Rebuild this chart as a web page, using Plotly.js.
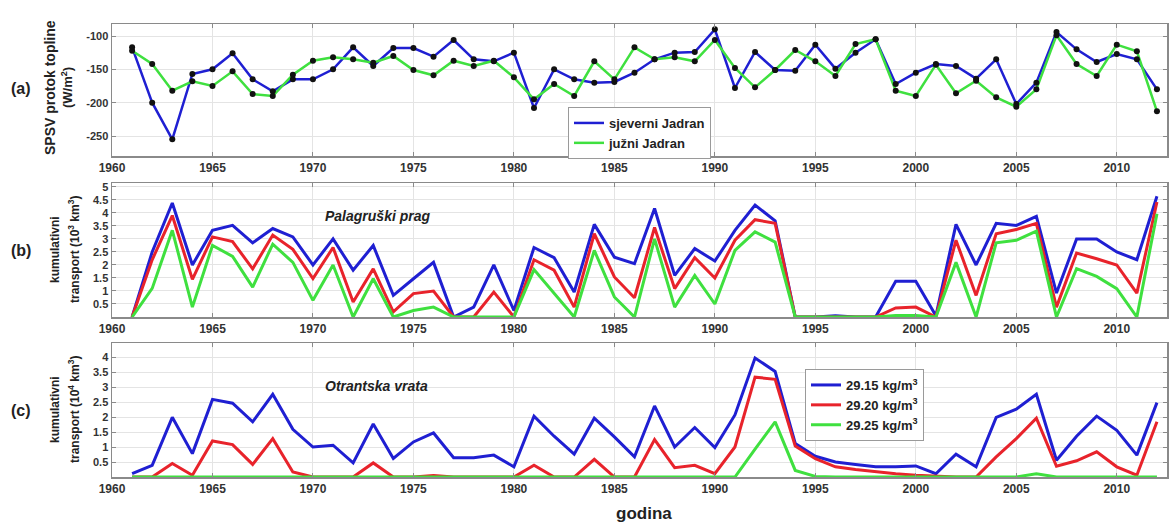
<!DOCTYPE html>
<html>
<head>
<meta charset="utf-8">
<script src="https://cdn.plot.ly/plotly-3.0.1.min.js"></script>
<style>html,body{margin:0;padding:0;background:#fff;}#chart{width:1171px;height:522px;}</style>
</head>
<body>
<div id="chart"></div>
<script>
const years = [];
for (let y = 1961; y <= 2012; y++) years.push(y);
const xTicks = [1960, 1965, 1970, 1975, 1980, 1985, 1990, 1995, 2000, 2005, 2010];

// (a) SPSV heat flux (W/m2)
const sjeverni = [-117,-200,-255,-157,-150,-126,-165,-183,-165,-165,-150,-117,-145,-118,-118,-131,-106,-135,-138,-125,
  -208,-150,-165,-170,-169,-155,-135,-125,-124,-90,-178,-124,-151,-152,-113,-149,-125,-105,-172,-155,
  -142,-145,-164,-135,-202,-170,-94,-120,-139,-127,-135,-180];
const juzni = [-122,-142,-182,-168,-175,-153,-187,-190,-158,-137,-132,-135,-140,-130,-151,-159,-137,-145,-137,-162,
  -195,-172,-190,-138,-165,-117,-135,-132,-138,-106,-148,-177,-151,-121,-138,-160,-112,-105,-182,-190,
  -143,-186,-167,-192,-206,-180,-99,-142,-160,-113,-123,-213];

// (b) Palagruški prag (10^3 km^3)
const pal2915 = [0,2.5,4.38,2.0,3.33,3.52,2.85,3.4,3.08,2.0,3.0,1.8,2.75,0.83,1.47,2.1,0,0.38,2.0,0.25,
  2.67,2.28,0.96,3.56,2.3,2.05,4.17,1.6,2.63,2.15,3.33,4.3,3.7,0,0,0.05,0,0,1.37,1.37,
  0.05,3.56,2.0,3.6,3.52,3.87,0.92,3.0,3.0,2.5,2.2,4.64];
const pal2920 = [0,2.2,3.9,1.45,3.08,2.9,1.85,3.15,2.6,1.48,2.67,0.58,1.85,0.2,0.9,1.0,0,0,0.96,0,
  2.2,1.8,0.38,3.2,1.54,0.74,3.44,1.09,2.28,1.5,2.95,3.74,3.6,0,0,0,0,0,0.35,0.38,
  0,2.95,0.83,3.2,3.36,3.6,0.38,2.46,2.24,2.0,0.92,4.42];
const pal2925 = [0,1.1,3.33,0.38,2.75,2.33,1.15,2.8,2.1,0.64,2.0,0,1.47,0,0.25,0.38,0,0,0,0,
  1.82,0.9,0,2.56,0.77,0,3.0,0.38,1.6,0.5,2.56,3.27,2.88,0,0,0,0,0,0.06,0.06,
  0,2.1,0,2.85,2.95,3.3,0,1.86,1.56,1.09,0,3.97];

// (c) Otrantska vrata (10^4 km^3)
const otr2915 = [0.11,0.39,1.99,0.78,2.59,2.46,1.84,2.76,1.59,1.0,1.06,0.47,1.77,0.62,1.17,1.47,0.64,0.64,0.73,0.34,
  2.03,1.36,0.76,1.96,1.34,0.67,2.37,1.0,1.65,0.98,2.07,3.97,3.52,1.12,0.69,0.5,0.42,0.34,0.34,0.37,
  0.11,0.76,0.34,1.99,2.26,2.76,0.56,1.36,2.03,1.56,0.73,2.48];
const otr2920 = [0,0,0.45,0.06,1.2,1.08,0.42,1.28,0.17,0,0,0,0.47,0,0,0.05,0,0,0,0,
  0.39,0,0,0.59,0,0,1.25,0.31,0.39,0.11,1.0,3.33,3.26,1.03,0.61,0.34,0.25,0.17,0.11,0.06,
  0.02,0,0,0.67,1.28,1.96,0.36,0.54,0.84,0.34,0.06,1.84];
const otr2925 = [0,0,0,0,0,0,0,0,0,0,0,0,0,0,0,0,0,0,0,0,
  0,0,0,0,0,0,0,0,0,0,0,0.93,1.84,0.22,0.02,0,0,0,0,0,
  0,0,0,0,0,0.11,0,0,0,0,0,0];

const seriesNames = ['sjeverni Jadran', 'južni Jadran'];
const densNames = ['29.15 kg/m<sup>3</sup>', '29.20 kg/m<sup>3</sup>', '29.25 kg/m<sup>3</sup>'];

const BLUE = '#1f1fd2', RED = '#e8232b', GREEN = '#3fe03f';
const FONT = 'Liberation Sans, Arial, sans-serif';

const traces = [
  {x: years, y: sjeverni, type: 'scatter', mode: 'lines', name: seriesNames[0], line: {color: BLUE, width: 2.5}, xaxis: 'x', yaxis: 'y', legend: 'legend'},
  {x: years, y: juzni, type: 'scatter', mode: 'lines', name: seriesNames[1], line: {color: GREEN, width: 2.5}, xaxis: 'x', yaxis: 'y', legend: 'legend'},
  {x: years, y: sjeverni, type: 'scatter', mode: 'markers', showlegend: false, marker: {color: '#111', size: 6}, xaxis: 'x', yaxis: 'y'},
  {x: years, y: juzni, type: 'scatter', mode: 'markers', showlegend: false, marker: {color: '#111', size: 6}, xaxis: 'x', yaxis: 'y'},

  {x: years, y: pal2915, type: 'scatter', mode: 'lines', showlegend: false, line: {color: BLUE, width: 3}, xaxis: 'x2', yaxis: 'y2'},
  {x: years, y: pal2920, type: 'scatter', mode: 'lines', showlegend: false, line: {color: RED, width: 3}, xaxis: 'x2', yaxis: 'y2'},
  {x: years, y: pal2925, type: 'scatter', mode: 'lines', showlegend: false, line: {color: GREEN, width: 3}, xaxis: 'x2', yaxis: 'y2'},

  {x: years, y: otr2915, type: 'scatter', mode: 'lines', name: densNames[0], line: {color: BLUE, width: 3}, xaxis: 'x3', yaxis: 'y3', legend: 'legend2'},
  {x: years, y: otr2920, type: 'scatter', mode: 'lines', name: densNames[1], line: {color: RED, width: 3}, xaxis: 'x3', yaxis: 'y3', legend: 'legend2'},
  {x: years, y: otr2925, type: 'scatter', mode: 'lines', name: densNames[2], line: {color: GREEN, width: 3}, xaxis: 'x3', yaxis: 'y3', legend: 'legend2'}
];

function xAxis(anchor) {
  return {
    anchor: anchor, range: [1960, 2012.5], tickvals: xTicks, ticktext: xTicks.map(String),
    showgrid: true, gridcolor: '#e4e4e4', gridwidth: 1, zeroline: false,
    showline: true, linecolor: '#8a8a8a', linewidth: 1.5, mirror: 'ticks',
    ticks: 'inside', ticklen: 4, tickcolor: '#8a8a8a',
    tickfont: {family: FONT, size: 12, weight: 'bold', color: '#333'}
  };
}
function yAxis(anchor, domain, range, vals) {
  return {
    anchor: anchor, domain: domain, range: range, tickvals: vals, ticktext: vals.map(String),
    showgrid: true, gridcolor: '#e4e4e4', gridwidth: 1, zeroline: false,
    showline: true, linecolor: '#8a8a8a', linewidth: 1.5, mirror: 'ticks',
    ticks: 'inside', ticklen: 4, tickcolor: '#8a8a8a',
    tickfont: {family: FONT, size: 11, weight: 'bold', color: '#333'}
  };
}

const annFont = (s, extra) => Object.assign({family: FONT, size: s, weight: 'bold', color: '#222'}, extra || {});
const px = v => (v - 112) / 1055;
const py = v => (477 - v) / 453;
function ann(text, x, y, size, opts) {
  return Object.assign({text: text, xref: 'paper', yref: 'paper', x: px(x), y: py(y),
    xanchor: 'center', yanchor: 'middle', showarrow: false, font: annFont(size)}, opts || {});
}

const layout = {
  width: 1171, height: 522,
  margin: {l: 112, r: 4, t: 24, b: 45},
  paper_bgcolor: '#fff', plot_bgcolor: '#fff',
  xaxis: Object.assign(xAxis('y'), {domain: [0, 1]}),
  xaxis2: Object.assign(xAxis('y2'), {domain: [0, 1]}),
  xaxis3: Object.assign(xAxis('y3'), {domain: [0, 1]}),
  yaxis: yAxis('x', [0.7086, 1], [-280, -82], [-250, -200, -150, -100]),
  yaxis2: yAxis('x2', [0.3532, 0.649], [0, 5.15], [0.5, 1, 1.5, 2, 2.5, 3, 3.5, 4, 4.5, 5]),
  yaxis3: yAxis('x3', [0, 0.2958], [0, 4.47], [0.5, 1, 1.5, 2, 2.5, 3, 3.5, 4]),
  legend: {
    x: px(568), y: py(107), xanchor: 'left', yanchor: 'top',
    bgcolor: '#fff', bordercolor: '#9a9a9a', borderwidth: 1,
    font: {family: FONT, size: 13, weight: 'bold', color: '#222'},
    tracegroupgap: 0, entrywidth: 150
  },
  legend2: {
    x: px(805), y: py(369), xanchor: 'left', yanchor: 'top',
    bgcolor: '#fff', bordercolor: '#9a9a9a', borderwidth: 1,
    font: {family: FONT, size: 13, weight: 'bold', color: '#222'},
    tracegroupgap: 2, entrywidth: 174
  },
  showlegend: true,
  annotations: [
    ann('(a)', 21, 88, 16),
    ann('(b)', 21, 250, 16),
    ann('(c)', 21, 410, 16),
    ann('SPSV protok topline', 50, 88, 14, {textangle: -90}),
    ann('(W/m<sup>2</sup>)', 67, 88, 13, {textangle: -90}),
    ann('kumulativni', 55, 250, 12, {textangle: -90}),
    ann('transport (10<sup>3</sup> km<sup>3</sup>)', 74, 250, 12, {textangle: -90}),
    ann('kumulativni', 55, 410, 12, {textangle: -90}),
    ann('transport (10<sup>4</sup> km<sup>3</sup>)', 74, 410, 12, {textangle: -90}),
    ann('Palagruški prag', 323, 216, 14, {xanchor: 'left', font: annFont(14, {style: 'italic'})}),
    ann('Otrantska vrata', 323, 386, 14, {xanchor: 'left', font: annFont(14, {style: 'italic'})}),
    ann('godina', 644, 513, 17)
  ]
};

Plotly.newPlot('chart', traces, layout, {displayModeBar: false, staticPlot: true});
</script>
</body>
</html>
